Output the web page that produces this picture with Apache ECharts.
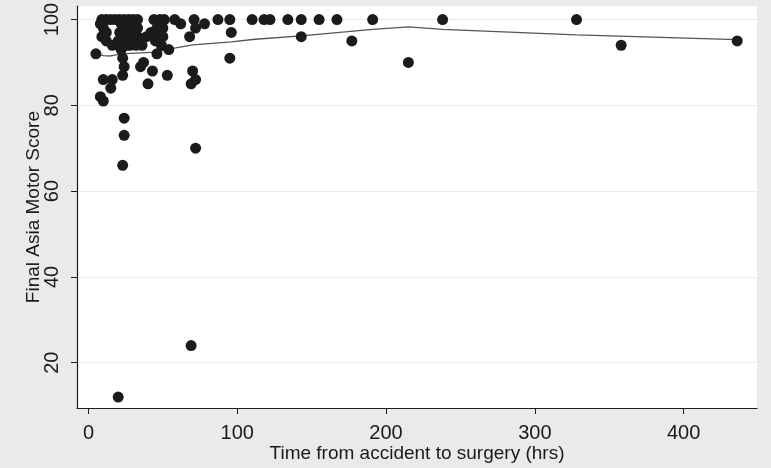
<!DOCTYPE html>
<html>
<head>
<meta charset="utf-8">
<script src="https://cdn.jsdelivr.net/npm/echarts@6/dist/echarts.min.js"></script>
<style>
html,body{margin:0;padding:0;background:#eaeaea;}
#chart{width:771px;height:468px;}
</style>
</head>
<body>
<div id="chart"></div>
<script>
// Time from accident to surgery (hrs)
const hours = [
  5, 9, 10, 16, 15, 8, 10, 23, 24, 23, 24, 24, 23, 20, 69, 72,
  36, 35, 37, 43, 40, 46, 53, 54, 68, 70, 72, 69,
  58, 62, 71, 72, 78, 87, 95, 96, 95,
  110, 118, 122, 134, 143, 143, 155, 167, 177, 191, 215, 238, 328, 358, 436,
  9, 12, 15, 18, 21, 24, 27, 30, 33,
  8, 22, 26, 30, 10, 24, 28, 33, 11, 21, 26, 31, 10, 24, 29, 33, 12, 20, 27, 31,
  16, 20, 24, 28, 32, 22, 30, 26, 12,
  44, 48, 51, 46, 50, 42, 47, 50, 39, 45, 49
];
// Final Asia Motor Score
const motorScores = [
  92, 96, 86, 86, 84, 82, 81, 91, 89, 87, 77, 73, 66, 12, 24, 70,
  94, 89, 90, 88, 85, 92, 87, 93, 96, 88, 86, 85,
  100, 99, 100, 98, 99, 100, 100, 97, 91,
  100, 100, 100, 100, 100, 96, 100, 100, 95, 100, 90, 100, 100, 94, 95,
  100, 100, 100, 100, 100, 100, 100, 100, 100,
  99, 99, 99, 99, 98, 98, 98, 98, 97, 97, 97, 97, 96, 96, 96, 96, 95, 95, 95, 95,
  94, 94, 94, 94, 94, 93, 96, 94, 97,
  100, 100, 100, 98, 98, 97, 96, 96, 96, 95, 94
];
// Lowess smooth
const lowessHours = [5.8, 10, 15, 22, 45, 54, 70, 96, 112, 143, 191, 215, 238, 328, 436];
const lowessScores = [92, 91.6, 91.5, 92, 92.4, 93.1, 94.1, 94.8, 95.4, 96.2, 97.7, 98.3, 97.7, 96.4, 95.3];

const xTicks = [0, 100, 200, 300, 400];
const yTicks = [20, 40, 60, 80, 100];

const points = hours.map((h, i) => [h, motorScores[i]]);
const lowess = lowessHours.map((h, i) => [h, lowessScores[i]]);

const FONT = "'Liberation Sans', Arial, sans-serif";
const chart = echarts.init(document.getElementById('chart'), null, {renderer: 'canvas'});
chart.setOption({
  backgroundColor: '#eaeaea',
  animation: false,
  grid: {left: 77, right: 14, top: 5, bottom: 55, show: true, backgroundColor: '#ffffff', borderWidth: 0},
  xAxis: {
    type: 'value', min: -7.7, max: 449.3,
    name: 'Time from accident to surgery (hrs)', nameLocation: 'middle', nameGap: 36,
    nameMoveOverlap: false,
    nameTextStyle: {fontFamily: FONT, fontSize: 19, color: '#1a1a1a'},
    axisLine: {show: true, onZero: false, lineStyle: {color: '#1a1a1a', width: 1.2}},
    axisTick: {show: true, length: 6, customValues: xTicks, lineStyle: {color: '#1a1a1a'}},
    axisLabel: {customValues: xTicks, margin: 15, fontFamily: FONT, fontSize: 20, color: '#1a1a1a'},
    splitLine: {show: false}
  },
  yAxis: {
    type: 'value', min: 9.44, max: 103.1,
    name: 'Final Asia Motor Score', nameLocation: 'middle', nameGap: 34, nameRotate: 90,
    nameMoveOverlap: false,
    nameTextStyle: {fontFamily: FONT, fontSize: 19, color: '#1a1a1a'},
    axisLine: {show: true, onZero: false, lineStyle: {color: '#1a1a1a', width: 1.2}},
    axisTick: {show: true, length: 6, customValues: yTicks, lineStyle: {color: '#1a1a1a'}},
    axisLabel: {customValues: yTicks, rotate: 90, margin: 15, fontFamily: FONT, fontSize: 20, color: '#1a1a1a'},
    splitLine: {show: true, customValues: yTicks, lineStyle: {color: '#ebebeb', width: 1.2}}
  },
  series: [
    {
      type: 'scatter', data: points, symbol: 'circle', symbolSize: 11,
      itemStyle: {color: '#1b1b1b', opacity: 1}, z: 3
    },
    {
      type: 'line', data: lowess, showSymbol: false, symbol: 'none', smooth: false,
      lineStyle: {color: '#555555', width: 1.3}, z: 2
    }
  ]
});
</script>
</body>
</html>
